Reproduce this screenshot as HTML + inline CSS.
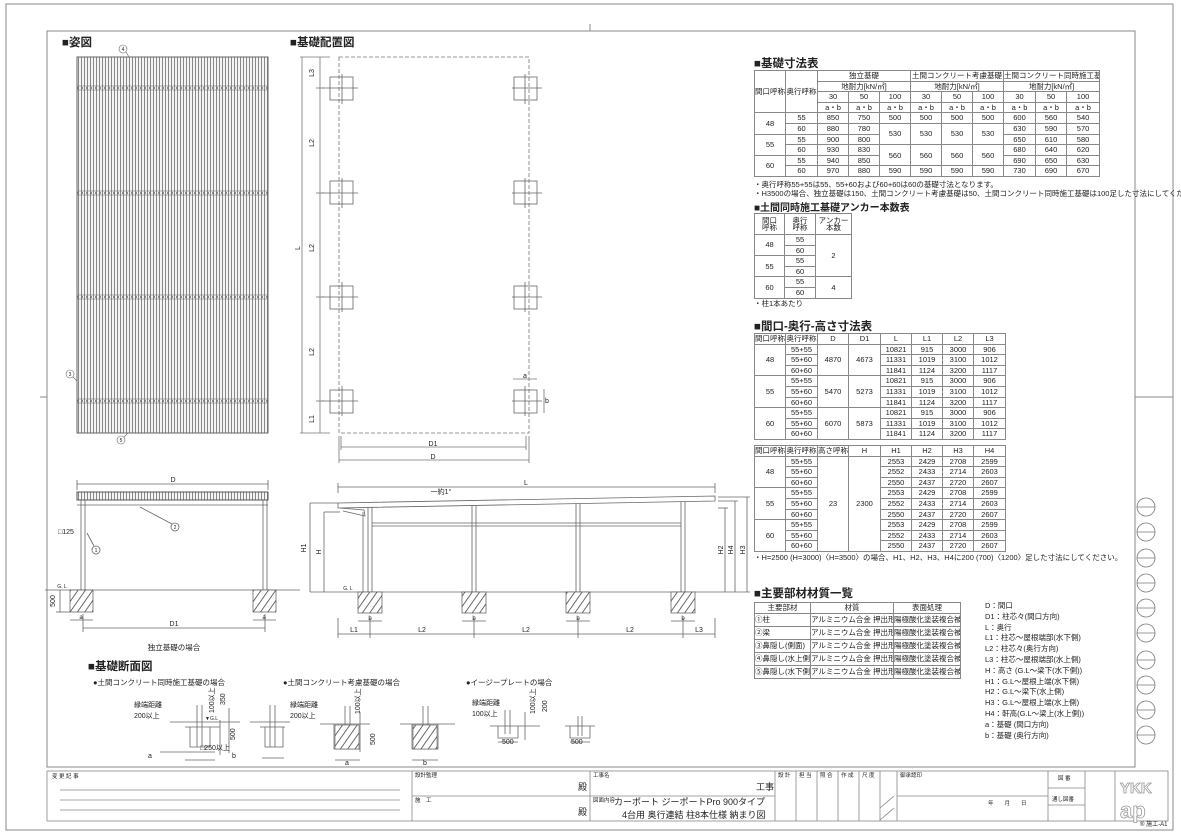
<!DOCTYPE html>
<html><head><meta charset="utf-8">
<style>
html,body{margin:0;padding:0;background:#fff;}
body{width:1181px;height:835px;position:relative;overflow:hidden;font-family:"Liberation Sans","Noto Sans CJK JP",sans-serif;color:#222;}
svg{position:absolute;left:0;top:0;}
table{position:absolute;border-collapse:collapse;table-layout:fixed;font-size:7.5px;line-height:1;}
td{border:1px solid #888;text-align:center;padding:0;height:9.6px;white-space:nowrap;overflow:hidden;}
.h{position:absolute;font-size:11.5px;font-weight:bold;white-space:nowrap;}
.t{position:absolute;font-size:7.5px;white-space:nowrap;}
</style></head><body>
<svg width="1181" height="835" viewBox="0 0 1181 835" font-family="Liberation Sans, Noto Sans CJK JP, sans-serif" font-size="8" fill="#222">
<defs>
<pattern id="st" width="3" height="10" patternUnits="userSpaceOnUse"><rect width="3" height="10" fill="#f4f4f4"/><line x1="0.5" y1="0" x2="0.5" y2="10" stroke="#888" stroke-width="1"/></pattern>
<pattern id="hat" width="6" height="6" patternUnits="userSpaceOnUse" patternTransform="rotate(35)"><rect width="6" height="6" fill="#fff"/><line x1="0" y1="0" x2="0" y2="6" stroke="#444" stroke-width="1.6"/></pattern>
</defs>
<g fill="none" stroke="#888" stroke-width="1">
<rect x="6" y="4" width="1167" height="826"/>
<rect x="47" y="31" width="1088" height="736"/>
<line x1="590" y1="24" x2="590" y2="31"/><line x1="40" y1="397" x2="47" y2="397"/><line x1="1135" y1="397" x2="1173" y2="397"/>
</g>
<!-- roof plan -->
<rect x="77" y="57" width="191" height="376" fill="url(#st)" stroke="#666"/>
<g stroke="#555" stroke-width="1.2" stroke-dasharray="1.5 3">
<line x1="77" y1="88" x2="268" y2="88"/><line x1="77" y1="193" x2="268" y2="193"/><line x1="77" y1="297" x2="268" y2="297"/><line x1="77" y1="401" x2="268" y2="401"/>
</g>
<g stroke="#666" fill="none" stroke-width="0.6">
<line x1="77" y1="86" x2="268" y2="86"/><line x1="77" y1="90" x2="268" y2="90"/><line x1="77" y1="191" x2="268" y2="191"/><line x1="77" y1="195" x2="268" y2="195"/><line x1="77" y1="295" x2="268" y2="295"/><line x1="77" y1="299" x2="268" y2="299"/><line x1="77" y1="399" x2="268" y2="399"/><line x1="77" y1="403" x2="268" y2="403"/>
<circle cx="123" cy="49" r="4"/><circle cx="121" cy="440" r="4"/><circle cx="70" cy="374" r="4"/>
<line x1="126" y1="52" x2="129" y2="57"/><line x1="124" y1="437" x2="128" y2="433"/><line x1="73" y1="377" x2="77" y2="381"/>
</g>
<g font-size="5" text-anchor="middle"><text x="123" y="51">4</text><text x="121" y="442">5</text><text x="70" y="376">3</text></g>
<!-- foundation plan -->
<g fill="none" stroke="#777" stroke-width="0.8">
<rect x="339" y="57" width="190" height="376" stroke-dasharray="4 2"/>
<line x1="302" y1="57" x2="302" y2="433"/><line x1="320" y1="57" x2="320" y2="433"/>
<line x1="300" y1="57" x2="330" y2="57"/><line x1="300" y1="433" x2="330" y2="433"/>
<line x1="316" y1="88" x2="324" y2="88"/><line x1="316" y1="193" x2="324" y2="193"/><line x1="316" y1="297" x2="324" y2="297"/><line x1="316" y1="401" x2="324" y2="401"/>
<line x1="341" y1="447" x2="526" y2="447"/><line x1="339" y1="460" x2="529" y2="460"/>
<line x1="341" y1="436" x2="341" y2="450"/><line x1="526" y1="436" x2="526" y2="450"/><line x1="339" y1="436" x2="339" y2="463"/><line x1="529" y1="436" x2="529" y2="463"/>
<line x1="513" y1="379" x2="537" y2="379"/><line x1="544" y1="389" x2="544" y2="413"/>
</g>
<g fill="none" stroke="#666" stroke-width="0.8">
<rect x="330" y="77" width="23" height="23"/><rect x="514" y="77" width="23" height="23"/>
<rect x="330" y="181" width="23" height="23"/><rect x="514" y="181" width="23" height="23"/>
<rect x="330" y="286" width="23" height="23"/><rect x="514" y="286" width="23" height="23"/>
<rect x="330" y="390" width="23" height="23"/><rect x="514" y="390" width="23" height="23"/>
<path d="M322 88h36M342 74v30M322 193h36M342 178v30M322 297h36M342 282v30M322 401h36M342 386v30M512 88h30M525 74v30M512 193h30M525 178v30M512 297h30M525 282v30M512 401h30M525 386v30"/>
</g>
<g font-size="7" text-anchor="middle">
<text x="314" y="73" transform="rotate(-90 314 73)">L3</text><text x="314" y="143" transform="rotate(-90 314 143)">L2</text>
<text x="314" y="248" transform="rotate(-90 314 248)">L2</text><text x="314" y="352" transform="rotate(-90 314 352)">L2</text>
<text x="314" y="419" transform="rotate(-90 314 419)">L1</text><text x="300" y="248" transform="rotate(-90 300 248)">L</text>
<text x="433" y="446">D1</text><text x="433" y="459">D</text><text x="525" y="378">a</text><text x="547" y="403">b</text>
</g>
<!-- left elevation -->
<g fill="none" stroke="#666" stroke-width="0.8">
<line x1="77" y1="484" x2="268" y2="484"/><line x1="77" y1="480" x2="77" y2="490"/><line x1="268" y1="480" x2="268" y2="490"/>
<line x1="77" y1="505" x2="268" y2="505"/>
<line x1="81" y1="500" x2="81" y2="590"/><line x1="85" y1="500" x2="85" y2="590"/>
<line x1="263" y1="500" x2="263" y2="590"/><line x1="267" y1="500" x2="267" y2="590"/>
<line x1="45" y1="590" x2="300" y2="590"/>
<line x1="60" y1="590" x2="60" y2="612"/><line x1="56" y1="612" x2="70" y2="612"/>
<line x1="70" y1="620" x2="93" y2="620"/><line x1="253" y1="620" x2="276" y2="620"/>
<line x1="83" y1="628" x2="265" y2="628"/><line x1="83" y1="614" x2="83" y2="632"/><line x1="265" y1="614" x2="265" y2="632"/>
<circle cx="96" cy="550" r="4"/><circle cx="175" cy="527" r="4"/>
<line x1="87" y1="533" x2="94" y2="546"/><line x1="140" y1="507" x2="172" y2="524"/>
</g>
<rect x="77" y="492" width="191" height="8" fill="url(#st)" stroke="#555"/>
<rect x="70" y="590" width="23" height="22" fill="url(#hat)" stroke="#555" stroke-width="0.7"/>
<rect x="253" y="590" width="23" height="22" fill="url(#hat)" stroke="#555" stroke-width="0.7"/>
<g font-size="7" text-anchor="middle">
<text x="173" y="482">D</text><text x="174" y="626">D1</text><text x="66" y="534">□125</text>
<text x="96" y="552" font-size="5">1</text><text x="175" y="529" font-size="5">2</text>
<text x="55" y="601" transform="rotate(-90 55 601)">500</text><text x="62" y="588" font-size="5">G. L</text>
<text x="81" y="619" font-size="6">a</text><text x="264" y="619" font-size="6">a</text>
<text x="174" y="650" font-size="7.5">独立基礎の場合</text>
</g>
<!-- right elevation -->
<g fill="none" stroke="#666" stroke-width="0.8">
<line x1="338" y1="487" x2="715" y2="487"/><line x1="338" y1="483" x2="338" y2="493"/><line x1="715" y1="483" x2="715" y2="493"/>
<path d="M338 503L715 496L715 501L338 508Z" fill="#fff"/>
<path d="M340 508L364 510L365 516L343 511"/>
<line x1="310" y1="503" x2="338" y2="503"/><line x1="324" y1="512" x2="340" y2="512"/>
<line x1="363" y1="512" x2="363" y2="592"/><line x1="368" y1="507" x2="368" y2="592"/><line x1="372" y1="507" x2="372" y2="592"/>
<line x1="472" y1="506" x2="472" y2="592"/><line x1="476" y1="506" x2="476" y2="592"/>
<line x1="576" y1="504" x2="576" y2="592"/><line x1="580" y1="504" x2="580" y2="592"/>
<line x1="681" y1="502" x2="681" y2="592"/><line x1="685" y1="502" x2="685" y2="592"/>
<line x1="372" y1="523" x2="681" y2="523"/><line x1="372" y1="526" x2="681" y2="526"/>
<line x1="310" y1="592" x2="750" y2="592"/>
<line x1="310" y1="503" x2="310" y2="592"/><line x1="324" y1="512" x2="324" y2="592"/>
<line x1="725" y1="508" x2="725" y2="592"/><line x1="735" y1="501" x2="735" y2="592"/><line x1="747" y1="497" x2="747" y2="592"/>
<line x1="718" y1="508" x2="728" y2="508"/><line x1="718" y1="501" x2="738" y2="501"/><line x1="718" y1="497" x2="750" y2="497"/>
<line x1="338" y1="634" x2="715" y2="634"/>
<path d="M338 618v20M370 618v20M474 618v20M578 618v20M683 618v20M715 618v20"/>
<path d="M358 621h24M462 621h24M566 621h24M671 621h24"/>
</g>
<rect x="358" y="592" width="24" height="21" fill="url(#hat)" stroke="#555" stroke-width="0.7"/>
<rect x="462" y="592" width="24" height="21" fill="url(#hat)" stroke="#555" stroke-width="0.7"/>
<rect x="566" y="592" width="24" height="21" fill="url(#hat)" stroke="#555" stroke-width="0.7"/>
<rect x="671" y="592" width="24" height="21" fill="url(#hat)" stroke="#555" stroke-width="0.7"/>
<g font-size="7" text-anchor="middle">
<text x="526" y="485">L</text><text x="441" y="494">一約1°</text>
<text x="306" y="548" transform="rotate(-90 306 548)">H1</text><text x="321" y="552" transform="rotate(-90 321 552)">H</text>
<text x="723" y="550" transform="rotate(-90 723 550)">H2</text><text x="733" y="550" transform="rotate(-90 733 550)">H4</text><text x="745" y="550" transform="rotate(-90 745 550)">H3</text>
<text x="354" y="632">L1</text><text x="422" y="632">L2</text><text x="526" y="632">L2</text><text x="630" y="632">L2</text><text x="699" y="632">L3</text>
<text x="370" y="620" font-size="6">b</text><text x="474" y="620" font-size="6">b</text><text x="578" y="620" font-size="6">b</text><text x="683" y="620" font-size="6">b</text>
<text x="348" y="590" font-size="5">G. L</text>
</g>
<!-- foundation sections -->
<g fill="none" stroke="#666" stroke-width="0.8">
<path d="M170 722h70M185 727h35M197 705v42M202 705v42M190 727v20h20v-20M160 752h55M220 720v35M229 708v45M185 760h30"/>
<path d="M250 722h40M260 727h25M270 705v42M275 705v42M265 727v20h18v-20M262 758h22"/>
<path d="M320 724h50M334 724v25h26v-25M345 706v40M350 706v40M360 712v40M335 760h25"/>
<path d="M400 724h55M412 724v25h26v-25M423 706v40M428 706v40M412 760h26"/>
<path d="M490 726h50M498 726v12h20v-12M505 710v24M510 710v24M525 712v28M498 742h20"/>
<path d="M565 726h30M570 726v12h20v-12M578 716v20M582 716v20M570 742h20"/>
</g>
<rect x="335" y="725" width="24" height="24" fill="url(#hat)" stroke="#555" stroke-width="0.6"/>
<rect x="413" y="725" width="24" height="24" fill="url(#hat)" stroke="#555" stroke-width="0.6"/>
<g font-size="7">
<text x="134" y="707">縁端距離</text><text x="134" y="718">200以上</text><text x="205" y="720" font-size="5">▼G.L</text>
<text x="214" y="713" transform="rotate(-90 214 713)">100以上</text><text x="225" y="705" transform="rotate(-90 225 705)">350</text>
<text x="235" y="740" transform="rotate(-90 235 740)">500</text><text x="200" y="750">□250以上</text>
<text x="148" y="758">a</text><text x="232" y="758">b</text>
<text x="290" y="707">縁端距離</text><text x="290" y="718">200以上</text><text x="360" y="714" transform="rotate(-90 360 714)">100以上</text>
<text x="375" y="745" transform="rotate(-90 375 745)">500</text><text x="345" y="765">a</text><text x="423" y="765">b</text>
<text x="472" y="705">縁端距離</text><text x="472" y="716">100以上</text><text x="535" y="714" transform="rotate(-90 535 714)">100以上</text>
<text x="547" y="712" transform="rotate(-90 547 712)">200</text><text x="502" y="744">500</text><text x="571" y="744">500</text>
</g>
<g font-size="7.5"><text x="93" y="685">●土間コンクリート同時施工基礎の場合</text><text x="283" y="685">●土間コンクリート考慮基礎の場合</text><text x="466" y="685">●イージープレートの場合</text></g>
<!-- right circles -->
<g fill="none" stroke="#777" stroke-width="0.8">
<circle cx="1146" cy="507" r="9"/><circle cx="1146" cy="532" r="9"/><circle cx="1146" cy="558" r="9"/><circle cx="1146" cy="583" r="9"/><circle cx="1146" cy="608" r="9"/><circle cx="1146" cy="633" r="9"/><circle cx="1146" cy="660" r="9"/><circle cx="1146" cy="685" r="9"/><circle cx="1146" cy="710" r="9"/><circle cx="1146" cy="735" r="9"/>
<path d="M1137 507h18M1137 532h18M1137 558h18M1137 583h18M1137 608h18M1137 633h18M1137 660h18M1137 685h18M1137 710h18M1137 735h18"/>
</g>
<!-- title block -->
<g fill="none" stroke="#888" stroke-width="0.8">
<rect x="47" y="771" width="1121" height="50"/>
<path d="M412 771v50M590 771v50M775 771v50M412 796h363M60 790h340M60 800h340M60 810h340"/>
<path d="M796 771v50M817 771v50M838 771v50M859 771v50M880 771v50M897 771v50M1048 771v50M1085 771v50M897 796h151M1048 788h37M1048 805h37M1115 771v50"/>
<path d="M880 808l14-12M880 820l14-12"/>
</g>
<g font-size="5.5"><text x="52" y="778">変 更 記 事</text><text x="415" y="777">設計監理</text><text x="415" y="802">施　工</text><text x="593" y="777">工事名</text><text x="593" y="802">図面内容</text><text x="900" y="777">御承認印</text><text x="1058" y="780">図 番</text><text x="1052" y="801">通し図番</text><text x="988" y="805">年　　月　　日</text>
<text x="778" y="777">設 計</text><text x="799" y="777">担 当</text><text x="820" y="777">照 合</text><text x="841" y="777">作 成</text><text x="862" y="777">尺 度</text></g>
<g font-size="9"><text x="578" y="790">殿</text><text x="578" y="815">殿</text><text x="756" y="790">工事</text>
<text x="614" y="805">カーポート ジーポートPro 900タイプ</text><text x="622" y="818">4台用 奥行連結 柱8本仕様 納まり図</text></g>
<text x="1120" y="793" font-size="15" font-weight="bold" fill="#fff" stroke="#999" stroke-width="0.8">YKK</text>
<text x="1120" y="818" font-size="22" font-weight="bold" fill="#fff" stroke="#999" stroke-width="0.8">ap</text>
<text x="1140" y="826" font-size="6">® 施工-A1</text>
</svg>

<div class="h" style="left:62px;top:34px">■姿図</div>
<div class="h" style="left:290px;top:34px">■基礎配置図</div>
<div class="h" style="left:88px;top:658px">■基礎断面図</div>
<div class="h" style="left:754px;top:55px">■基礎寸法表</div>
<div class="h" style="left:754px;top:199px;font-size:10px">■土間同時施工基礎アンカー本数表</div>
<div class="h" style="left:754px;top:318px">■間口-奥行-高さ寸法表</div>
<div class="h" style="left:754px;top:585px">■主要部材材質一覧</div>

<table style="left:754px;top:70px;width:345px">
<colgroup><col style="width:31px"><col style="width:32px"><col style="width:31px"><col style="width:31px"><col style="width:31px"><col style="width:31px"><col style="width:31px"><col style="width:31px"><col style="width:32px"><col style="width:31px"><col style="width:33px"></colgroup>
<tr><td rowspan="4">間口呼称</td><td rowspan="4">奥行呼称</td><td colspan="3">独立基礎</td><td colspan="3">土間コンクリート考慮基礎</td><td colspan="3">土間コンクリート同時施工基礎</td></tr>
<tr><td colspan="3">地耐力[kN/㎡]</td><td colspan="3">地耐力[kN/㎡]</td><td colspan="3">地耐力[kN/㎡]</td></tr>
<tr><td>30</td><td>50</td><td>100</td><td>30</td><td>50</td><td>100</td><td>30</td><td>50</td><td>100</td></tr>
<tr><td>a・b</td><td>a・b</td><td>a・b</td><td>a・b</td><td>a・b</td><td>a・b</td><td>a・b</td><td>a・b</td><td>a・b</td></tr>
<tr><td rowspan="2">48</td><td>55</td><td>850</td><td>750</td><td>500</td><td>500</td><td>500</td><td>500</td><td>600</td><td>560</td><td>540</td></tr>
<tr><td>60</td><td>880</td><td>780</td><td rowspan="2">530</td><td rowspan="2">530</td><td rowspan="2">530</td><td rowspan="2">530</td><td>630</td><td>590</td><td>570</td></tr>
<tr><td rowspan="2">55</td><td>55</td><td>900</td><td>800</td><td>650</td><td>610</td><td>580</td></tr>
<tr><td>60</td><td>930</td><td>830</td><td rowspan="2">560</td><td rowspan="2">560</td><td rowspan="2">560</td><td rowspan="2">560</td><td>680</td><td>640</td><td>620</td></tr>
<tr><td rowspan="2">60</td><td>55</td><td>940</td><td>850</td><td>690</td><td>650</td><td>630</td></tr>
<tr><td>60</td><td>970</td><td>880</td><td>590</td><td>590</td><td>590</td><td>590</td><td>730</td><td>690</td><td>670</td></tr>
</table>
<div class="t" style="left:754px;top:179px">・奥行呼称55+55は55、55+60および60+60は60の基礎寸法となります。</div>
<div class="t" style="left:754px;top:188px">・H3500の場合、独立基礎は150、土間コンクリート考慮基礎は50、土間コンクリート同時施工基礎は100足した寸法にしてください。</div>

<table style="left:754px;top:213px;width:97px">
<colgroup><col style="width:30px"><col style="width:31px"><col style="width:36px"></colgroup>
<tr><td style="height:20px">間口<br>呼称</td><td>奥行<br>呼称</td><td>アンカー<br>本数</td></tr>
<tr><td rowspan="2">48</td><td>55</td><td rowspan="4">2</td></tr><tr><td>60</td></tr>
<tr><td rowspan="2">55</td><td>55</td></tr><tr><td>60</td></tr>
<tr><td rowspan="2">60</td><td>55</td><td rowspan="2">4</td></tr><tr><td>60</td></tr>
</table>
<div class="t" style="left:754px;top:298px">・柱1本あたり</div>

<table style="left:754px;top:333px;width:251px">
<colgroup><col style="width:31px"><col style="width:32px"><col style="width:31px"><col style="width:32px"><col style="width:31px"><col style="width:31px"><col style="width:31px"><col style="width:32px"></colgroup>
<tr><td>間口呼称</td><td>奥行呼称</td><td>D</td><td>D1</td><td>L</td><td>L1</td><td>L2</td><td>L3</td></tr>
<tr><td rowspan="3">48</td><td>55+55</td><td rowspan="3">4870</td><td rowspan="3">4673</td><td>10821</td><td>915</td><td>3000</td><td>906</td></tr>
<tr><td>55+60</td><td>11331</td><td>1019</td><td>3100</td><td>1012</td></tr>
<tr><td>60+60</td><td>11841</td><td>1124</td><td>3200</td><td>1117</td></tr>
<tr><td rowspan="3">55</td><td>55+55</td><td rowspan="3">5470</td><td rowspan="3">5273</td><td>10821</td><td>915</td><td>3000</td><td>906</td></tr>
<tr><td>55+60</td><td>11331</td><td>1019</td><td>3100</td><td>1012</td></tr>
<tr><td>60+60</td><td>11841</td><td>1124</td><td>3200</td><td>1117</td></tr>
<tr><td rowspan="3">60</td><td>55+55</td><td rowspan="3">6070</td><td rowspan="3">5873</td><td>10821</td><td>915</td><td>3000</td><td>906</td></tr>
<tr><td>55+60</td><td>11331</td><td>1019</td><td>3100</td><td>1012</td></tr>
<tr><td>60+60</td><td>11841</td><td>1124</td><td>3200</td><td>1117</td></tr>
</table>

<table style="left:754px;top:445px;width:251px">
<colgroup><col style="width:31px"><col style="width:32px"><col style="width:31px"><col style="width:32px"><col style="width:31px"><col style="width:31px"><col style="width:31px"><col style="width:32px"></colgroup>
<tr><td>間口呼称</td><td>奥行呼称</td><td>高さ呼称</td><td>H</td><td>H1</td><td>H2</td><td>H3</td><td>H4</td></tr>
<tr><td rowspan="3">48</td><td>55+55</td><td rowspan="9">23</td><td rowspan="9">2300</td><td>2553</td><td>2429</td><td>2708</td><td>2599</td></tr>
<tr><td>55+60</td><td>2552</td><td>2433</td><td>2714</td><td>2603</td></tr>
<tr><td>60+60</td><td>2550</td><td>2437</td><td>2720</td><td>2607</td></tr>
<tr><td rowspan="3">55</td><td>55+55</td><td>2553</td><td>2429</td><td>2708</td><td>2599</td></tr>
<tr><td>55+60</td><td>2552</td><td>2433</td><td>2714</td><td>2603</td></tr>
<tr><td>60+60</td><td>2550</td><td>2437</td><td>2720</td><td>2607</td></tr>
<tr><td rowspan="3">60</td><td>55+55</td><td>2553</td><td>2429</td><td>2708</td><td>2599</td></tr>
<tr><td>55+60</td><td>2552</td><td>2433</td><td>2714</td><td>2603</td></tr>
<tr><td>60+60</td><td>2550</td><td>2437</td><td>2720</td><td>2607</td></tr>
</table>
<div class="t" style="left:754px;top:552px">・H=2500 (H=3000)〈H=3500〉の場合、H1、H2、H3、H4に200 (700)〈1200〉足した寸法にしてください。</div>

<table style="left:754px;top:602px;width:206px;font-size:7.5px">
<colgroup><col style="width:56px"><col style="width:83px"><col style="width:67px"></colgroup>
<tr><td style="height:10px">主要部材</td><td>材質</td><td>表面処理</td></tr>
<tr><td style="height:12px;text-align:left">①柱</td><td style="text-align:left">アルミニウム合金 押出形材</td><td style="text-align:left">陽極酸化塗装複合被膜</td></tr>
<tr><td style="height:12px;text-align:left">②梁</td><td style="text-align:left">アルミニウム合金 押出形材</td><td style="text-align:left">陽極酸化塗装複合被膜</td></tr>
<tr><td style="height:12px;text-align:left">③鼻隠し(側面)</td><td style="text-align:left">アルミニウム合金 押出形材</td><td style="text-align:left">陽極酸化塗装複合被膜</td></tr>
<tr><td style="height:12px;text-align:left">④鼻隠し(水上側)</td><td style="text-align:left">アルミニウム合金 押出形材</td><td style="text-align:left">陽極酸化塗装複合被膜</td></tr>
<tr><td style="height:12px;text-align:left">⑤鼻隠し(水下側)</td><td style="text-align:left">アルミニウム合金 押出形材</td><td style="text-align:left">陽極酸化塗装複合被膜</td></tr>
</table>
<div class="t" style="left:985px;top:601px;line-height:10.8px;font-size:7.5px">D：間口<br>D1：柱芯々(間口方向)<br>L：奥行<br>L1：柱芯～屋根端部(水下側)<br>L2：柱芯々(奥行方向)<br>L3：柱芯～屋根端部(水上側)<br>H：高さ (G.L～梁下(水下側))<br>H1：G.L～屋根上端(水下側)<br>H2：G.L～梁下(水上側)<br>H3：G.L～屋根上端(水上側)<br>H4：軒高(G.L～梁上(水上側))<br>a：基礎 (間口方向)<br>b：基礎 (奥行方向)</div>
</body></html>
